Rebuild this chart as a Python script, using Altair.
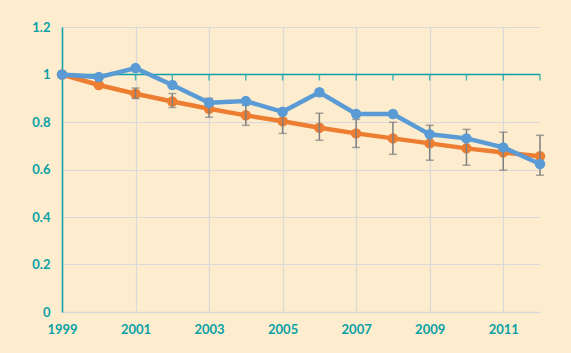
import altair as alt
import pandas as pd

years = list(range(1999, 2013))
blue = [1.0, 0.989, 1.027, 0.956, 0.881, 0.888, 0.843, 0.925, 0.834, 0.834, 0.748, 0.731, 0.693, 0.623]
orange = [1.0, 0.956, 0.919, 0.886, 0.856, 0.828, 0.803, 0.776, 0.752, 0.731, 0.710, 0.689, 0.672, 0.656]
err_years = list(range(2001, 2013))
err_low = [0.899, 0.861, 0.820, 0.786, 0.752, 0.723, 0.693, 0.664, 0.639, 0.618, 0.597, 0.576]
err_high = [0.943, 0.920, 0.900, 0.870, 0.854, 0.837, 0.811, 0.799, 0.786, 0.769, 0.757, 0.744]
x_labels = [1999, 2001, 2003, 2005, 2007, 2009, 2011]
y_ticks = [0, 0.2, 0.4, 0.6, 0.8, 1.0, 1.2]
ref_value = [1.0]

TEAL = "#0AA0A6"
BLUE = "#5B9BD5"
ORANGE = "#ED7D31"
GRID = "#D9D9D9"
BG = "#FDEDCE"

df = pd.DataFrame({"year": years, "blue": blue, "orange": orange})
err = pd.DataFrame({"year": err_years, "lo": err_low, "hi": err_high})
ref = pd.DataFrame({"y": ref_value})

xscale = alt.Scale(domain=[1999, 2012], nice=False, zero=False)
yscale = alt.Scale(domain=[0, 1.2], nice=False)

xaxis = alt.Axis(values=x_labels, format="d", title=None, grid=True, gridColor=GRID,
                 gridWidth=1.2, ticks=False, domainColor=GRID, domainWidth=1.5,
                 labelColor=TEAL, labelFont="Lato", labelFontSize=13, labelFontWeight="bold",
                 labelPadding=11, labelFlush=False)
yaxis = alt.Axis(values=y_ticks, format="~g", title=None, grid=True, gridColor=GRID,
                 gridWidth=1.2, ticks=False, domainColor=TEAL, domainWidth=1.5,
                 labelColor=TEAL, labelFont="Lato", labelFontSize=13, labelFontWeight="bold",
                 labelPadding=12)

base = alt.Chart(df)

axes = base.mark_point(opacity=0).encode(
    x=alt.X("year:Q", scale=xscale, axis=xaxis),
    y=alt.Y("orange:Q", scale=yscale, axis=yaxis),
)

ref_line = alt.Chart(ref).mark_rule(color=TEAL, strokeWidth=1.5).encode(
    y=alt.Y("y:Q", scale=yscale))
ref_ticks = base.mark_tick(color=TEAL, size=6, thickness=1.5, yOffset=3).encode(
    x=alt.X("year:Q", scale=xscale), y=alt.datum(1)
)

orange_line = base.mark_line(color=ORANGE, strokeWidth=4.5, point=alt.OverlayMarkDef(
    color=ORANGE, size=110, filled=True, opacity=1)).encode(
    x=alt.X("year:Q", scale=xscale), y=alt.Y("orange:Q", scale=yscale)
)

eb = alt.Chart(err)
err_rule = eb.mark_rule(color="#7F7F7F", strokeWidth=1.5).encode(
    x=alt.X("year:Q", scale=xscale), y=alt.Y("lo:Q", scale=yscale), y2="hi:Q"
)
cap_lo = eb.mark_tick(color="#7F7F7F", orient="horizontal", size=8, thickness=1.5).encode(
    x=alt.X("year:Q", scale=xscale), y=alt.Y("lo:Q", scale=yscale)
)
cap_hi = eb.mark_tick(color="#7F7F7F", orient="horizontal", size=8, thickness=1.5).encode(
    x=alt.X("year:Q", scale=xscale), y=alt.Y("hi:Q", scale=yscale)
)

blue_line = base.mark_line(color=BLUE, strokeWidth=4.5, point=alt.OverlayMarkDef(
    color=BLUE, size=110, filled=True, opacity=1)).encode(
    x=alt.X("year:Q", scale=xscale), y=alt.Y("blue:Q", scale=yscale)
)

chart = alt.layer(axes, ref_line, ref_ticks, orange_line, err_rule, cap_lo, cap_hi, blue_line).properties(
    width=478, height=285,
    autosize=alt.AutoSizeParams(type="none"),
    padding={"left": 62, "top": 27, "right": 31, "bottom": 41},
    background=BG,
).configure_view(stroke=None)

chart.save("out.html", embed_options={"renderer": "svg", "actions": False})
